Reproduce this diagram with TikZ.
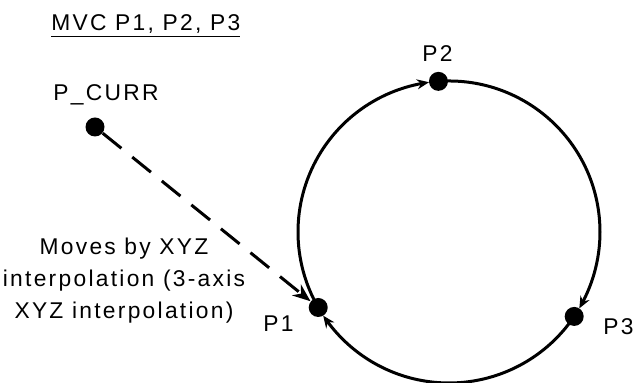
\documentclass[tikz,border=0pt]{standalone}
\usepackage{fontspec}
\setmainfont{Liberation Sans}[LetterSpace=10]
\usetikzlibrary{arrows.meta,bending}

\begin{document}
\begin{tikzpicture}[x=0.5pt, y=0.5pt,
    dot/.style={circle, fill, inner sep=0pt, minimum size=9.5pt},
    txt/.style={inner sep=0pt, font=\fontsize{11.4}{16}\selectfont},
    lbl/.style={txt, anchor=base west},
    flow/.style={line width=1.5pt, -{Stealth[length=6pt, width=5pt, bend]}},
    move/.style={line width=1.5pt, dash pattern=on 12pt off 7pt, -{Stealth[length=9pt, width=7pt]}}]
    \useasboundingbox (0,0) rectangle (633,383);

    % Title
    \node[lbl] (title) at (51,352) {\underline{MVC P1, P2, P3}};

    % Current position
    \node[lbl] (curlbl) at (53,282) {P\_CURR};
    \node[dot] (pcurr) at (95,256) {};

    % Circle through P1, P2, P3
    \coordinate (c) at (449,151);
    \node[dot] (p1) at ([shift={(210:75.5pt)}]c) {};
    \node[dot] (p2) at ([shift={(94:75.5pt)}]c) {};
    \node[dot] (p3) at ([shift={(-34:75.5pt)}]c) {};
    \node[lbl] (p1lbl) at (263,51) {P1};
    \node[lbl] (p2lbl) at (422,321) {P2};
    \node[lbl] (p3lbl) at (603,48) {P3};

    % Arcs
    \draw[flow] (p1.center) arc[start angle=210, end angle=97.6, radius=75.5pt];
    \draw[flow] (p2.center) arc[start angle=94, end angle=-30.4, radius=75.5pt];
    \draw[flow] (p3.center) arc[start angle=-34, end angle=-146.4, radius=75.5pt];

    % Approach move
    \draw[move] (pcurr) -- (p1);
    \node[txt, align=center, anchor=base] (note) at (124,64)
        {Moves by XYZ\\interpolation (3-axis\\XYZ interpolation)};
\end{tikzpicture}
\end{document}
